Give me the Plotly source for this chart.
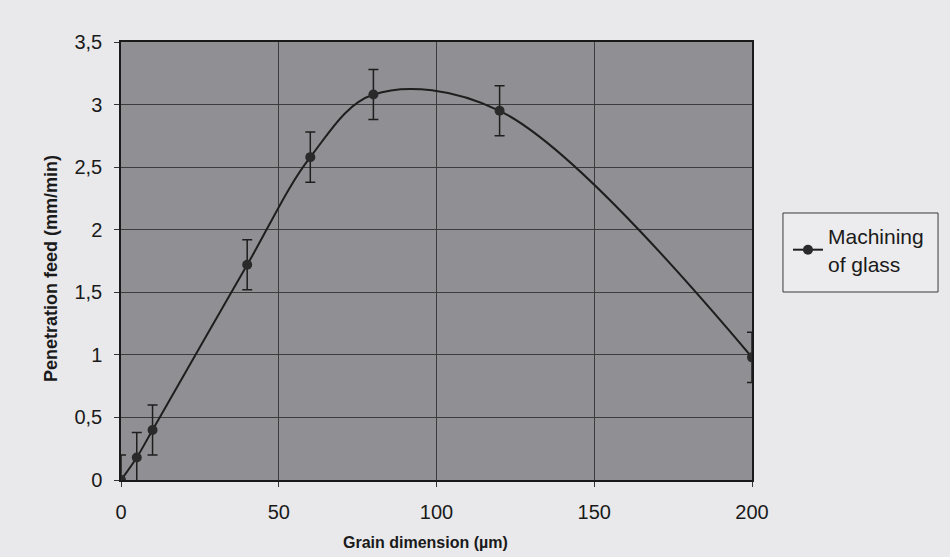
import plotly.graph_objects as go

# Data
grain_um = [0, 5, 10, 40, 60, 80, 120, 200]
feed_mm_min = [0.0, 0.18, 0.40, 1.72, 2.58, 3.08, 2.95, 0.98]
feed_err = [0.2, 0.2, 0.2, 0.2, 0.2, 0.2, 0.2, 0.2]

x_ticks = [0, 50, 100, 150, 200]
y_ticks = [0, 0.5, 1, 1.5, 2, 2.5, 3, 3.5]
y_tick_labels = ["0", "0,5", "1", "1,5", "2", "2,5", "3", "3,5"]

x_title = "Grain dimension (µm)"
y_title = "Penetration feed (mm/min)"
series_name = "Machining<br>of glass"

PAPER = "#e9e9eb"
font_family = "Liberation Sans, Arial, sans-serif"

fig = go.Figure()
fig.add_trace(go.Scatter(
    x=grain_um, y=feed_mm_min,
    mode="lines+markers",
    name=series_name,
    line=dict(color="#1e1e1e", width=2, shape="spline", smoothing=1.0),
    marker=dict(color="#2a2a2a", size=10, symbol="circle"),
    error_y=dict(type="data", array=feed_err, visible=True,
                 color="#1e1e1e", thickness=1.5, width=5),
))

fig.update_layout(
    width=942, height=549,
    margin=dict(l=113, r=198, t=34, b=77),
    paper_bgcolor=PAPER,
    plot_bgcolor="#909094",
    font=dict(family=font_family, color="#1a1a1a", size=20),
    showlegend=True,
    legend=dict(
        x=1.057, y=0.603, xanchor="left", yanchor="top",
        bgcolor="rgba(0,0,0,0)", borderwidth=0,
        font=dict(size=21, family=font_family, color="#1a1a1a"),
        itemwidth=30,
    ),
    xaxis=dict(
        range=[0, 200],
        tickvals=x_ticks,
        ticks="outside", ticklen=5, tickcolor="#333",
        ticklabelstandoff=8,
        showgrid=True, gridcolor="#3c3c3c", gridwidth=1,
        showline=True, linecolor="#1a1a1a", linewidth=1.5, mirror=True,
        zeroline=False,
        tickfont=dict(size=20),
    ),
    yaxis=dict(
        range=[0, 3.5],
        tickvals=y_ticks, ticktext=y_tick_labels,
        ticks="outside", ticklen=5, tickcolor="#333",
        ticklabelstandoff=8,
        showgrid=True, gridcolor="#3c3c3c", gridwidth=1,
        showline=True, linecolor="#1a1a1a", linewidth=1.5, mirror=True,
        zeroline=False,
        tickfont=dict(size=20),
    ),
    shapes=[dict(
        type="rect", xref="paper", yref="paper",
        x0=1.0491, x1=1.2948, y0=0.4292, y1=0.6096,
        line=dict(color="#3a3a3a", width=1), fillcolor="#ececee", layer="below",
    )],
    annotations=[
        dict(text="<b>%s</b>" % x_title, xref="paper", yref="paper",
             x=0.4818, y=-0.1438, xanchor="center", yanchor="middle",
             showarrow=False, font=dict(size=16)),
        dict(text="<b>%s</b>" % y_title, xref="paper", yref="paper",
             x=-0.111, y=0.484, xanchor="center", yanchor="middle",
             textangle=-90, showarrow=False, font=dict(size=18)),
    ],
)

fig.write_html("out.html",
               post_script="document.body.style.background='%s';" % PAPER)
